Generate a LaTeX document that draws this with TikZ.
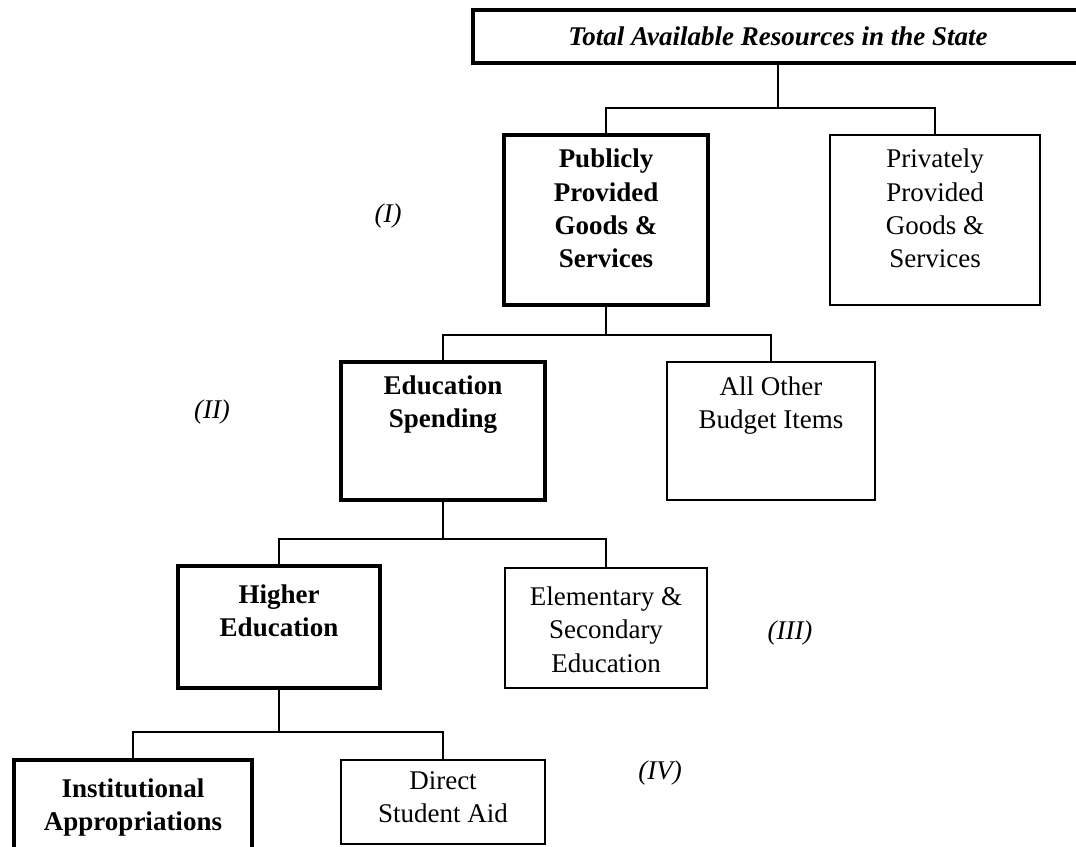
\documentclass[tikz,border=0pt]{standalone}
\usepackage{fontspec}
\setmainfont{Liberation Serif}
\usetikzlibrary{positioning}

\newcommand{\boxsize}{\fontsize{27}{33.4}\selectfont}
\tikzset{
  heavybox/.style={draw,line width=4.5pt,inner sep=0pt,font=\boxsize\bfseries},
  lightbox/.style={draw,line width=1.6pt,inner sep=0pt,font=\boxsize},
  link/.style={draw,line width=2pt},
  level/.style={font=\boxsize\itshape}
}
% box text: width, height, top padding, lines
\newcommand{\cell}[4]{\begin{minipage}[c][#2pt][t]{#1pt}\centering\vspace*{#3pt}#4\end{minipage}}

\begin{document}
\begin{tikzpicture}[x=1pt,y=-1pt]
\useasboundingbox (0,0) rectangle (1076,846);
\clip (0,0) rectangle (1076,846);
% top level
\node[draw,line width=4.5pt,minimum width=610pt,minimum height=53pt,inner sep=0pt,
  font=\boxsize\bfseries\itshape] (total) at (778,36.5)
  {Total Available Resources in the State};
% (I)
\node[heavybox] (public) at (606,220) {\cell{204}{170}{14}{Publicly\\Provided\\Goods \&\\Services}};
\node[lightbox] (private) at (935,220) {\cell{210}{170}{14}{Privately\\Provided\\Goods \&\\Services}};
% (II)
\node[heavybox] (edu) at (443,431) {\cell{204}{138}{13.5}{Education\\Spending}};
\node[lightbox] (other) at (771,431) {\cell{208}{138}{14.5}{All Other\\Budget Items}};
% (III)
\node[heavybox] (higher) at (279,627) {\cell{202}{122}{18.5}{Higher\\Education}};
\node[lightbox] (school) at (606,628) {\cell{202}{120}{18.5}{Elementary \&\\Secondary\\Education}};
% (IV)
\node[heavybox] (inst) at (133,806) {\cell{238}{92}{18.5}{Institutional\\Appropriations}};
\node[lightbox] (aid) at (443,802) {\cell{204}{84}{11.5}{Direct\\Student Aid}};

\node[level] (lvlone) at (388,216) {(I)};
\node[level] (lvltwo) at (212,412) {(II)};
\node[level] (lvlthree) at (790,633) {(III)};
\node[level] (lvlfour) at (660,773) {(IV)};

\draw[link] (total.south) -- ++(0,43) coordinate (j1);
\draw[link] (j1) -| (public.north);
\draw[link] (j1) -| (private.north);
\draw[link] (public.south) -- ++(0,28) coordinate (j2);
\draw[link] (j2) -| (edu.north);
\draw[link] (j2) -| (other.north);
\draw[link] (edu.south) -- ++(0,37) coordinate (j3);
\draw[link] (j3) -| (higher.north);
\draw[link] (j3) -| (school.north);
\draw[link] (higher.south) -- ++(0,42) coordinate (j4);
\draw[link] (j4) -| (inst.north);
\draw[link] (j4) -| (aid.north);
\end{tikzpicture}
\end{document}
